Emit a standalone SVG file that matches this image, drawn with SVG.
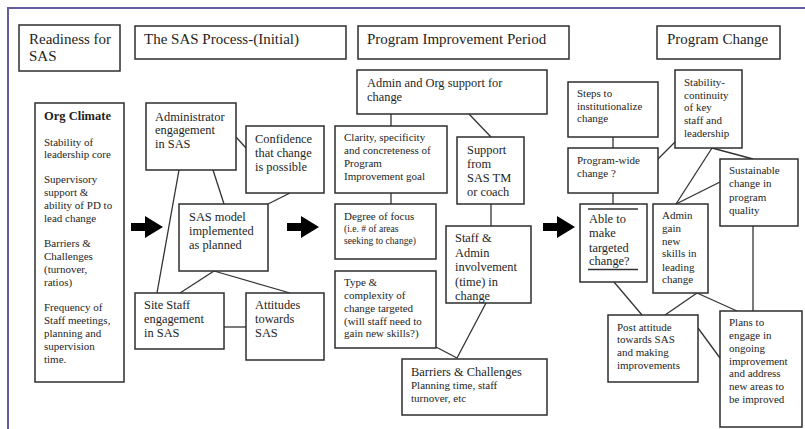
<svg xmlns="http://www.w3.org/2000/svg" width="805" height="429" viewBox="0 0 805 429">
  <style>
    .box { fill: #ffffff; stroke: #2e2e2e; stroke-width: 1.5; }
    .link { stroke: #333333; stroke-width: 1.3; fill: none; }
    .rule { stroke: #333333; stroke-width: 1.6; }
    text { font-family: "Liberation Serif", "Times New Roman", serif; fill: #1e1e1e; }
    .h { font-size: 15px; }
    .m { font-size: 12.4px; }
    .s { font-size: 11px; }
    .xs { font-size: 9.6px; }
    .b { font-weight: bold; font-size: 12.5px; }
    .arrow { fill: #000000; }
  </style>
  <rect width="805" height="429" fill="#ffffff"/>
  <!-- page frame -->
  <rect x="8" y="8" width="830" height="450" fill="none" stroke="#625f9e" stroke-width="2"/>

  <!-- column headers -->
  <g id="hdr-readiness">
    <rect class="box" x="19" y="25" width="101" height="46"/>
    <text class="h" x="29" y="44">Readiness for</text>
    <text class="h" x="29" y="61">SAS</text>
  </g>
  <g id="hdr-process">
    <rect class="box" x="135" y="26" width="211" height="33"/>
    <text class="h" x="144" y="44">The SAS Process-(Initial)</text>
  </g>
  <g id="hdr-improvement">
    <rect class="box" x="358" y="26" width="211" height="33"/>
    <text class="h" x="367" y="44">Program Improvement Period</text>
  </g>
  <g id="hdr-change">
    <rect class="box" x="657" y="26" width="123" height="33"/>
    <text class="h" x="667" y="44">Program Change</text>
  </g>

  <!-- connectors -->
  <g id="connectors">
    <line class="link" x1="179" y1="170" x2="157" y2="293"/>
    <line class="link" x1="213" y1="170" x2="224" y2="204"/>
    <line class="link" x1="236" y1="137" x2="246" y2="148"/>
    <line class="link" x1="290" y1="193" x2="268" y2="204"/>
    <line class="link" x1="214" y1="271" x2="180" y2="293"/>
    <line class="link" x1="214" y1="271" x2="290" y2="293"/>
    <line class="link" x1="224" y1="327" x2="246" y2="327"/>
    <line class="link" x1="391" y1="114" x2="391" y2="126"/>
    <line class="link" x1="469" y1="114" x2="491" y2="137"/>
    <line class="link" x1="391" y1="193" x2="391" y2="204"/>
    <line class="link" x1="491" y1="204" x2="491" y2="226"/>
    <line class="link" x1="436" y1="347" x2="457" y2="358"/>
    <line class="link" x1="486" y1="303" x2="457" y2="358"/>
    <line class="link" x1="613" y1="137" x2="613" y2="148"/>
    <line class="link" x1="658" y1="159" x2="677" y2="140"/>
    <line class="link" x1="613" y1="193" x2="613" y2="204"/>
    <line class="link" x1="712" y1="148" x2="676" y2="204"/>
    <line class="link" x1="712" y1="148" x2="753" y2="159"/>
    <line class="link" x1="720" y1="182" x2="676" y2="204"/>
    <line class="link" x1="753" y1="226" x2="753" y2="311"/>
    <line class="link" x1="614" y1="282" x2="642" y2="315"/>
    <line class="link" x1="697" y1="293" x2="665" y2="315"/>
    <line class="link" x1="697" y1="293" x2="737" y2="311"/>
    <line class="link" x1="698" y1="328" x2="720" y2="358"/>
  </g>

  <!-- stage arrows -->
  <g id="stage-arrows">
    <polygon class="arrow" points="131,223 145,223 145,216 163,227 145,238 145,231 131,231"/>
    <polygon class="arrow" points="287,223 301,223 301,216 319,227 301,238 301,231 287,231"/>
    <polygon class="arrow" points="543,223 557,223 557,216 575,227 557,238 557,231 543,231"/>
  </g>

  <!-- readiness -->
  <g id="org-climate">
    <rect class="box" x="35" y="103" width="89" height="279"/>
    <text class="b" x="44" y="120">Org Climate</text>
    <text class="s" x="44" y="145.5">Stability of</text>
    <text class="s" x="44" y="157.5">leadership core</text>
    <text class="s" x="44" y="183">Supervisory</text>
    <text class="s" x="44" y="196">support &amp;</text>
    <text class="s" x="44" y="209">ability of PD to</text>
    <text class="s" x="44" y="222">lead change</text>
    <text class="s" x="44" y="246.5">Barriers &amp;</text>
    <text class="s" x="44" y="259.5">Challenges</text>
    <text class="s" x="44" y="272.5">(turnover,</text>
    <text class="s" x="44" y="285.5">ratios)</text>
    <text class="s" x="44" y="310.5">Frequency of</text>
    <text class="s" x="44" y="323.5">Staff meetings,</text>
    <text class="s" x="44" y="336.5">planning and</text>
    <text class="s" x="44" y="349.5">supervision</text>
    <text class="s" x="44" y="362.5">time.</text>
  </g>

  <!-- initial process -->
  <g id="admin-engagement">
    <rect class="box" x="146" y="103" width="90" height="67"/>
    <text class="m" x="155" y="120.5">Administrator</text>
    <text class="m" x="155" y="134">engagement</text>
    <text class="m" x="155" y="148">in SAS</text>
  </g>
  <g id="confidence">
    <rect class="box" x="246" y="126" width="78" height="67"/>
    <text class="m" x="255" y="143">Confidence</text>
    <text class="m" x="255" y="157">that change</text>
    <text class="m" x="255" y="171">is possible</text>
  </g>
  <g id="sas-model">
    <rect class="box" x="179" y="204" width="89" height="67"/>
    <text class="m" x="189" y="221">SAS model</text>
    <text class="m" x="189" y="235">implemented</text>
    <text class="m" x="189" y="249">as planned</text>
  </g>
  <g id="site-staff">
    <rect class="box" x="135" y="293" width="89" height="56"/>
    <text class="m" x="144" y="309">Site Staff</text>
    <text class="m" x="144" y="323">engagement</text>
    <text class="m" x="144" y="337">in SAS</text>
  </g>
  <g id="attitudes">
    <rect class="box" x="246" y="293" width="78" height="67"/>
    <text class="m" x="255" y="309">Attitudes</text>
    <text class="m" x="255" y="323">towards</text>
    <text class="m" x="255" y="337">SAS</text>
  </g>

  <!-- improvement period -->
  <g id="admin-org-support">
    <rect class="box" x="357" y="70" width="190" height="44"/>
    <text class="m" x="367" y="87">Admin and Org support for</text>
    <text class="m" x="367" y="101">change</text>
  </g>
  <g id="clarity">
    <rect class="box" x="335" y="126" width="112" height="67"/>
    <text class="s" x="344" y="140.5">Clarity, specificity</text>
    <text class="s" x="344" y="153.5">and concreteness of</text>
    <text class="s" x="344" y="166.5">Program</text>
    <text class="s" x="344" y="179.5">Improvement goal</text>
  </g>
  <g id="support-coach">
    <rect class="box" x="457" y="137" width="67" height="67"/>
    <text class="m" x="467" y="154">Support</text>
    <text class="m" x="467" y="168">from</text>
    <text class="m" x="467" y="182">SAS TM</text>
    <text class="m" x="467" y="196">or coach</text>
  </g>
  <g id="degree-focus">
    <rect class="box" x="335" y="204" width="101" height="55"/>
    <text class="s" x="344" y="219.5">Degree of focus</text>
    <text class="xs" x="344" y="231.5">(i.e. # of areas</text>
    <text class="xs" x="344" y="244">seeking to change)</text>
  </g>
  <g id="staff-admin">
    <rect class="box" x="446" y="226" width="85" height="77"/>
    <text class="m" x="455" y="242">Staff &amp;</text>
    <text class="m" x="455" y="257">Admin</text>
    <text class="m" x="455" y="271">involvement</text>
    <text class="m" x="455" y="286">(time) in</text>
    <text class="m" x="455" y="300">change</text>
  </g>
  <g id="type-complexity">
    <rect class="box" x="335" y="271" width="101" height="77"/>
    <text class="s" x="344" y="285.5">Type &amp;</text>
    <text class="s" x="344" y="298.5">complexity of</text>
    <text class="s" x="344" y="311.5">change targeted</text>
    <text class="s" x="344" y="324.5">(will staff need to</text>
    <text class="s" x="344" y="336.5">gain new skills?)</text>
  </g>
  <g id="barriers">
    <rect class="box" x="402" y="359" width="145" height="56"/>
    <text class="m" x="411" y="376">Barriers &amp; Challenges</text>
    <text class="s" x="411" y="389">Planning time, staff</text>
    <text class="s" x="411" y="402">turnover, etc</text>
  </g>

  <!-- program change -->
  <g id="steps">
    <rect class="box" x="568" y="82" width="90" height="55"/>
    <text class="s" x="577" y="96.5">Steps to</text>
    <text class="s" x="577" y="109.5">institutionalize</text>
    <text class="s" x="577" y="122">change</text>
  </g>
  <g id="stability">
    <rect class="box" x="675" y="70" width="67" height="78"/>
    <text class="s" x="684" y="85.5">Stability-</text>
    <text class="s" x="684" y="98.5">continuity</text>
    <text class="s" x="684" y="111">of key</text>
    <text class="s" x="684" y="123.5">staff and</text>
    <text class="s" x="684" y="136.5">leadership</text>
  </g>
  <g id="program-wide">
    <rect class="box" x="568" y="148" width="90" height="45"/>
    <text class="s" x="577" y="163.5">Program-wide</text>
    <text class="s" x="577" y="176.5">change ?</text>
  </g>
  <g id="able-targeted">
    <rect class="box" x="580" y="204" width="67" height="78"/>
    <line class="rule" x1="588" y1="209" x2="638" y2="209"/>
    <text class="m" x="589" y="223">Able to</text>
    <text class="m" x="589" y="237">make</text>
    <text class="m" x="589" y="251.5">targeted</text>
    <text class="m" x="589" y="265">change?</text>
    <line class="rule" x1="588" y1="269.5" x2="638" y2="269.5"/>
  </g>
  <g id="admin-skills">
    <rect class="box" x="653" y="204" width="55" height="89"/>
    <text class="s" x="662" y="219">Admin</text>
    <text class="s" x="662" y="232">gain</text>
    <text class="s" x="662" y="244.5">new</text>
    <text class="s" x="662" y="257">skills in</text>
    <text class="s" x="662" y="270.5">leading</text>
    <text class="s" x="662" y="283">change</text>
  </g>
  <g id="sustainable">
    <rect class="box" x="720" y="159" width="78" height="67"/>
    <text class="s" x="729" y="174">Sustainable</text>
    <text class="s" x="729" y="187">change in</text>
    <text class="s" x="729" y="200.5">program</text>
    <text class="s" x="729" y="213.5">quality</text>
  </g>
  <g id="post-attitude">
    <rect class="box" x="608" y="315" width="90" height="67"/>
    <text class="s" x="617" y="330.5">Post attitude</text>
    <text class="s" x="617" y="342.5">towards SAS</text>
    <text class="s" x="617" y="355.5">and making</text>
    <text class="s" x="617" y="368.5">improvements</text>
  </g>
  <g id="plans">
    <rect class="box" x="720" y="311" width="82" height="116"/>
    <text class="s" x="729" y="325.5">Plans to</text>
    <text class="s" x="729" y="338.5">engage in</text>
    <text class="s" x="729" y="351.5">ongoing</text>
    <text class="s" x="729" y="364.5">improvement</text>
    <text class="s" x="729" y="376.5">and address</text>
    <text class="s" x="729" y="389.5">new areas to</text>
    <text class="s" x="729" y="402.5">be improved</text>
  </g>
</svg>
